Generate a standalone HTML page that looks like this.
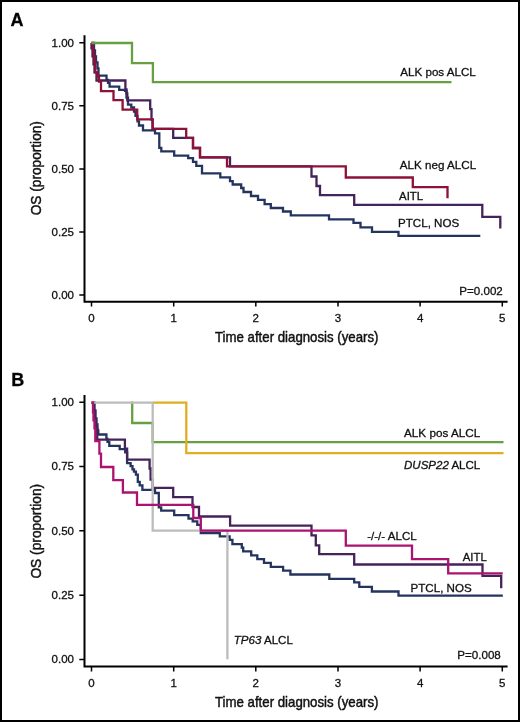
<!DOCTYPE html>
<html><head><meta charset="utf-8"><style>
html,body{margin:0;padding:0;background:#fff;}
body{width:520px;height:722px;overflow:hidden;}
svg{display:block;will-change:transform;filter:blur(0.3px);}
text{font-family:"Liberation Sans",sans-serif;fill:#111;stroke:#111;stroke-width:0.3px;}
.c{fill:none;stroke-width:2.3;stroke-linejoin:miter;stroke-linecap:butt;}
.ax{fill:none;stroke:#000;stroke-width:2;}
.tk{fill:none;stroke:#000;stroke-width:1.5;}
.l{font-size:11.5px;}
.t{font-size:14.2px;stroke-width:0.45px;}
.pl{font-size:18px;font-weight:bold;fill:#000;}
</style></head><body>
<svg width="520" height="722" viewBox="0 0 520 722">
<rect x="0" y="0" width="520" height="722" fill="#fff"/>
<rect x="1" y="1" width="518" height="720" fill="none" stroke="#000" stroke-width="2"/>

<!-- ================= PANEL A ================= -->
<text class="pl" x="10.5" y="26.2">A</text>
<!-- axes -->
<path class="ax" d="M84.5,35.2 V301.8 H507.6"/>
<path class="tk" d="M79.3,42.7 H84 M79.3,105.8 H84 M79.3,168.9 H84 M79.3,231.9 H84 M79.3,295 H84"/>
<path class="tk" d="M91.5,302 V306.6 M173.7,302 V306.6 M255.8,302 V306.6 M338,302 V306.6 M420.1,302 V306.6 M502.3,302 V306.6"/>
<g class="l" text-anchor="end">
<text x="74" y="46.6">1.00</text>
<text x="74" y="109.7">0.75</text>
<text x="74" y="172.8">0.50</text>
<text x="74" y="235.8">0.25</text>
<text x="74" y="298.9">0.00</text>
</g>
<g class="l" text-anchor="middle">
<text x="91.5" y="321.8">0</text>
<text x="173.7" y="321.8">1</text>
<text x="255.8" y="321.8">2</text>
<text x="338" y="321.8">3</text>
<text x="420.1" y="321.8">4</text>
<text x="502.3" y="321.8">5</text>
</g>
<text class="t" x="215" y="342.1" textLength="163.5" lengthAdjust="spacingAndGlyphs">Time after diagnosis (years)</text>
<text class="t" transform="translate(41,215.3) rotate(-90)" textLength="94.2" lengthAdjust="spacingAndGlyphs">OS (proportion)</text>

<!-- curves A -->
<g transform="translate(0,0.3)">
<path class="c" stroke="#24345f" d="M91.5,42.7 H94 V50 H95 V56 H96 V62 H97.5 V68 H98.5 V75.4 H106.5 V79.5 H108 V82.5 H109.6 V86.4 H119.2 V89.5 H125 V90.5 H126.5 V97.3 H128 V104.4 H131.3 V107.2 H134 V111.3 H135.5 V115.5 H137.5 V121 H139 V125.2 H143 V130 H155 V133 H159.3 V147.5 H161.3 V151 H174.2 V155.4 H188.2 V157.8 H193 V161.6 H196.3 V165.5 H202 V173 H220.3 V177 H230 V180.8 H232.7 V184.2 H241.2 V187.7 H243.5 V191.7 H251 V195.7 H258 V199.5 H264.6 V203.8 H270.8 V207.7 H283 V211.2 H290.8 V215 H329 V219 H353.5 V222.6 H360.5 V227 H372 V231.5 H398.5 V235.6 H480.3"/>
<path class="c" stroke="#44225a" d="M91.5,42.7 V48 H92.5 V56 H93.5 V64 H94.5 V72 H96.5 V80.2 H125.4 V89.2 H126.5 V93 H127.3 V100.1 H150.2 V108.8 H151.5 V119.2 H152.6 V128.5 H173.2 V137.6 H193 V147.7 H200 V157 H230 V166 H311.5 V176.2 H316.5 V185.7 H320 V194.8 H354.2 V204.5 H482.3 V216.5 H500.3 V228.3"/>
<path class="c" stroke="#8e1238" d="M91.5,42.7 H93 V50 H93.5 V56 H94.5 V62 H95.3 V72 H97.5 V76.5 H99 V81.3 H101 V90.8 H113.5 V99.9 H122.6 V109.3 H137.2 V119.1 H152.6 V128.5 H186.2 V137.5 H193 V147.7 H200 V157 H227 V166 H345.8 V177.2 H412.8 V186.9 H447.5 V198"/>
<path class="c" stroke="#66a040" d="M91.5,42.7 H132 V62.9 H152.9 V81.8 H451.5"/>
</g>

<g class="l">
<text x="400.3" y="75.8" textLength="75.5" lengthAdjust="spacingAndGlyphs">ALK pos ALCL</text>
<text x="399.8" y="168.8" textLength="76.4" lengthAdjust="spacingAndGlyphs">ALK neg ALCL</text>
<text x="399" y="199.5" textLength="24.2" lengthAdjust="spacingAndGlyphs">AITL</text>
<text x="398" y="227.2" textLength="61.2" lengthAdjust="spacingAndGlyphs">PTCL, NOS</text>
<text x="459.3" y="294.5" textLength="43.5" lengthAdjust="spacingAndGlyphs">P=0.002</text>
</g>

<!-- ================= PANEL B ================= -->
<text class="pl" x="11.2" y="385.7">B</text>
<path class="ax" d="M84.5,394.9 V666.5 H507.6"/>
<path class="tk" d="M79.3,402.2 H84 M79.3,466.5 H84 M79.3,530.8 H84 M79.3,595.2 H84 M79.3,659.5 H84"/>
<path class="tk" d="M91.5,666.5 V671.4 M173.7,666.5 V671.4 M255.8,666.5 V671.4 M338,666.5 V671.4 M420.1,666.5 V671.4 M502.3,666.5 V671.4"/>
<g class="l" text-anchor="end">
<text x="74" y="406.1">1.00</text>
<text x="74" y="470.4">0.75</text>
<text x="74" y="534.7">0.50</text>
<text x="74" y="599.1">0.25</text>
<text x="74" y="663.4">0.00</text>
</g>
<g class="l" text-anchor="middle">
<text x="91.5" y="686.7">0</text>
<text x="173.7" y="686.7">1</text>
<text x="255.8" y="686.7">2</text>
<text x="338" y="686.7">3</text>
<text x="420.1" y="686.7">4</text>
<text x="502.3" y="686.7">5</text>
</g>
<text class="t" x="215" y="707.1" textLength="163.5" lengthAdjust="spacingAndGlyphs">Time after diagnosis (years)</text>
<text class="t" transform="translate(41,578.6) rotate(-90)" textLength="94.8" lengthAdjust="spacingAndGlyphs">OS (proportion)</text>

<!-- curves B -->
<g transform="translate(0,0.3)">
<path class="c" stroke="#66a040" d="M132.2,401.2 V422.7 H152.7 V441.9 H503.5"/>
<path class="c" stroke="#e0ae20" d="M152.7,402.3 H186.3 V452.9 H503.5"/>
<path class="c" stroke="#24345f" d="M91.5,402.3 H94.5 V410 H95.5 V418 H96.5 V424 H97.5 V430 H98.3 V434.2 H106.4 V438.7 H107.5 V441.5 H109.3 V445.6 H119.7 V448.8 H125.2 V452 H127.1 V462.9 H130.6 V465.9 H132.5 V469 H134 V471.3 H135.9 V474.3 H137.8 V481.5 H139.7 V485 H142.4 V489.5 H155 V492.7 H158.8 V507 H161.2 V510.4 H174.2 V514.8 H188.5 V518.3 H192.7 V521.1 H197.3 V524.6 H200.8 V532.7 H219.8 V536.1 H229.6 V539.6 H232.4 V543.8 H241.8 V547.4 H243.2 V551 H251.2 V555 H257.3 V558.8 H264 V562.6 H270.8 V566.6 H283.1 V570.4 H290.4 V574.2 H329.3 V578.5 H354.2 V582 H359.3 V586.5 H371.9 V591.2 H398.5 V595.3 H502.8"/>
<path class="c" stroke="#44225a" d="M91.5,402.3 H94 V412 H95 V420 H96 V428 H97.2 V439.3 H124.9 V448.4 H127.1 V459.4 H149.6 V468.2 H150.6 V479.3 H152.7 V487.6 H173.2 V496.9 H192.5 V506.7 H199 V516.2 H230.1 V525.3 H311.5 V535 H315.8 V545 H319.2 V553.9 H354.2 V564.2 H482.5 V575.6 H501.2 V588"/>
<path class="c" stroke="#bcbcbc" d="M91.5,402.3 H152.7 V530.4 H227.4 V659"/>
<path class="c" stroke="#ac1270" d="M91.5,402.3 H93 V412 H93.5 V420 H94.5 V428 H95.3 V440.8 H99.4 V453.3 H101 V466.7 H113.3 V479.8 H122.9 V492.2 H137 V504.5 H193.3 V517.7 H200.8 V530.4 H345.8 V545.3 H412 V558.8 H448.2 V573.1 H502.7"/>
</g>

<g class="l">
<text x="404" y="436.6" textLength="76.2" lengthAdjust="spacingAndGlyphs">ALK pos ALCL</text>
<text x="404" y="468.5" textLength="76.2" lengthAdjust="spacingAndGlyphs"><tspan font-style="italic">DUSP22</tspan> ALCL</text>
<text x="367.2" y="540.1" textLength="49.5" lengthAdjust="spacingAndGlyphs">-/-/- ALCL</text>
<text x="462.8" y="561.2" textLength="24" lengthAdjust="spacingAndGlyphs">AITL</text>
<text x="410.5" y="591.7" textLength="61.2" lengthAdjust="spacingAndGlyphs">PTCL, NOS</text>
<text x="233.8" y="644.2" textLength="59" lengthAdjust="spacingAndGlyphs"><tspan font-style="italic">TP63</tspan> ALCL</text>
<text x="457.3" y="659.4" textLength="43.5" lengthAdjust="spacingAndGlyphs">P=0.008</text>
</g>
</svg>
</body></html>
